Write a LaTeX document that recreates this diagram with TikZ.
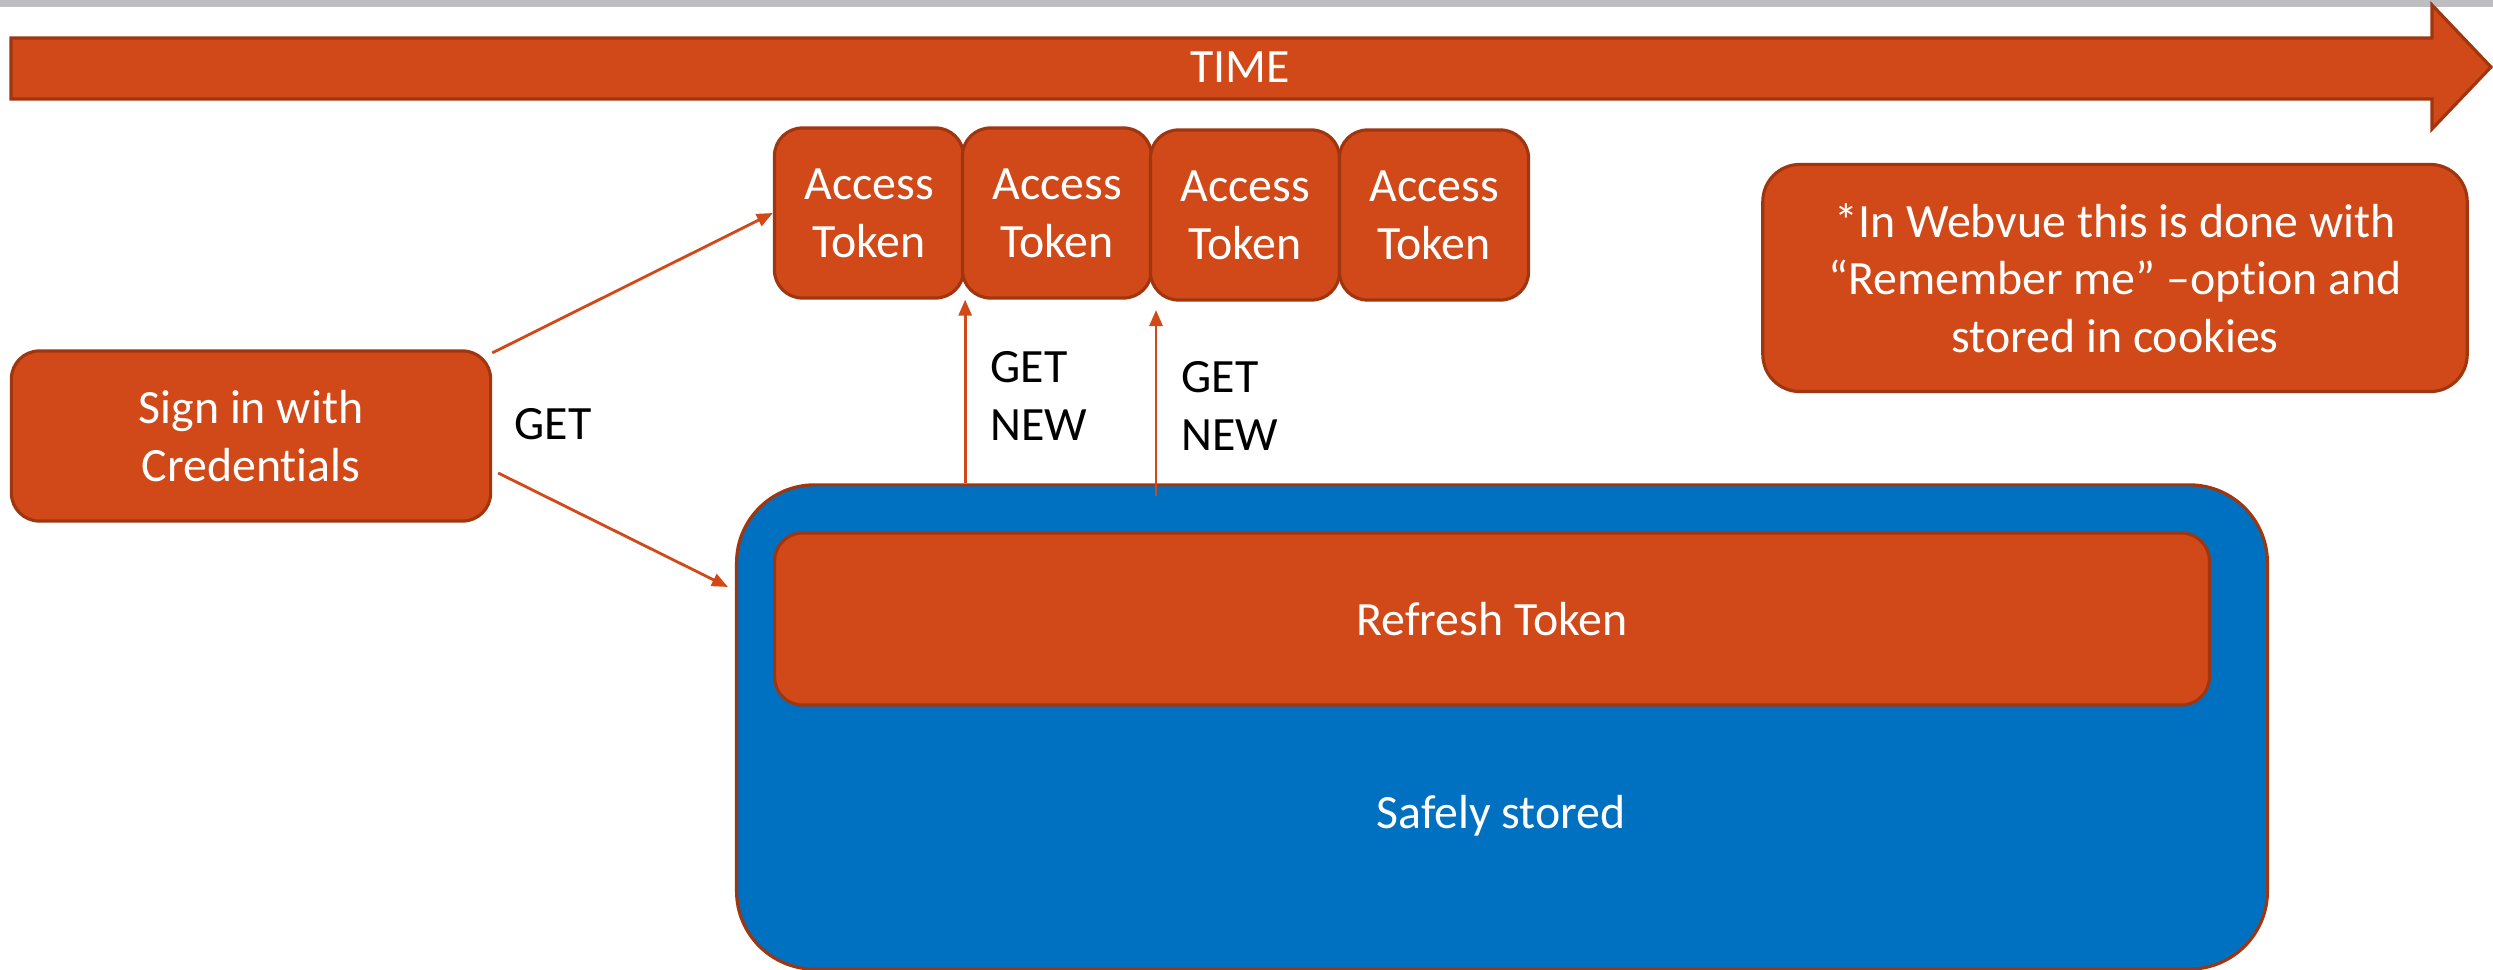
\documentclass[tikz,border=0pt]{standalone}
\usepackage{fontspec}
\setmainfont{Carlito}[Ligatures=CommonOff]
\usepackage{tikz}
\usetikzlibrary{arrows}
\usetikzlibrary{arrows.meta}

\definecolor{tokOrange}{RGB}{209,73,24}
\definecolor{tokEdge}{RGB}{160,54,15}
\definecolor{safeBlue}{RGB}{0,112,192}
\definecolor{barGray}{RGB}{190,190,192}
\newcommand{\boxfont}{\fontsize{13.6}{16.4}\selectfont}

\tikzset{
  tok/.style={draw=tokEdge, line width=0.9pt, fill=tokOrange, rounded corners=0.28cm,
    text=white, align=center, inner sep=0pt, minimum width=1.89cm, minimum height=1.70cm, font=\boxfont},
  conn/.style={draw=tokOrange, line width=0.8pt, -{Triangle[length=0.16cm,width=0.13cm]}},
  lbl/.style={align=left, inner sep=0pt, anchor=west, font=\boxfont},
  wtext/.style={text=white, inner sep=0pt, font=\boxfont}
}

\begin{document}
\begin{tikzpicture}[x=0.01cm, y=-0.01cm]
\useasboundingbox (0,0) rectangle (2493,970);
\fill[barGray] (0,0) rectangle (2493,7);
\draw[draw=tokEdge, line width=0.9pt, fill=tokOrange] (11,38) -- (2432,38) -- (2432,5) -- (2491,67) -- (2432,129) -- (2432,99) -- (11,99) -- cycle;
\node[wtext] (time) at (1240,67) {TIME};

\node[tok] (a1) at (869,213) {Access\\Token};
\node[tok] (a2) at (1057,213) {Access\\Token};
\node[tok] (a3) at (1245,215) {Access\\Token};
\node[tok] (a4) at (1434,215) {Access\\Token};

\node[tok, minimum width=4.79cm] (signin) at (251,436) {Sign in with\\Credentials};
\node[tok, minimum width=7.04cm, minimum height=2.27cm, rounded corners=0.37cm] (note) at (2115,278)
  {*In Webvue this is done with\\“Remember me” –option and\\stored in cookies};

\node[tok, fill=safeBlue, minimum width=15.30cm, minimum height=4.84cm, rounded corners=0.78cm] (safe) at (1502,727) {};
\node[tok, minimum width=14.34cm, minimum height=1.72cm] (refresh) at (1492,619) {Refresh Token};
\node[wtext] (stored) at (1501,816) {Safely stored};

\draw[conn] (signin.19) -- (a1.west);
\draw[conn] ([shift={(6,37)}]signin.east) -- ([shift={(-7,-140)}]safe.west);
\draw[conn] (a1.south east |- safe.north) -- (a1.south east);
\coordinate (n2s) at (1156,496);
\coordinate (n2e) at (1156,310);
\draw[conn] (n2s) -- (n2e);

\node[lbl] (get) at (514,424) {GET};
\node[lbl] (new1) at (990,396) {GET\\NEW};
\node[lbl] (new2) at (1181,406) {GET\\NEW};
\end{tikzpicture}
\end{document}
